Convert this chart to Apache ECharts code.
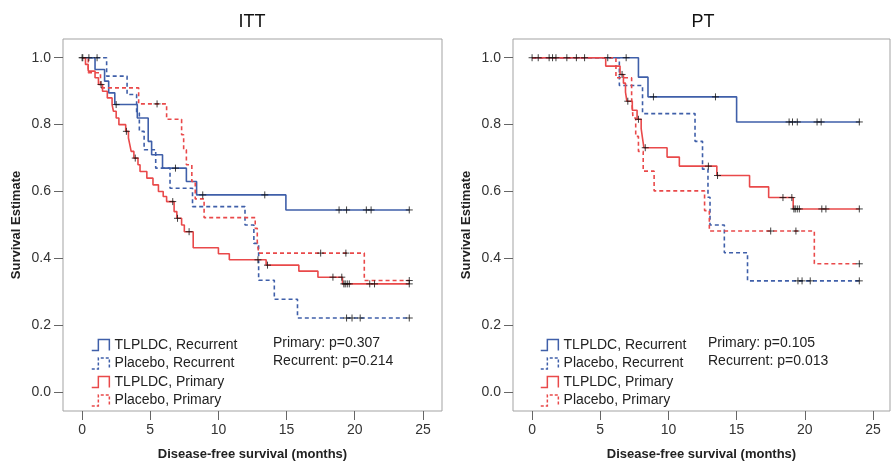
<!DOCTYPE html>
<html>
<head>
<meta charset="utf-8">
<script src="https://cdn.jsdelivr.net/npm/echarts@6/dist/echarts.min.js"></script>
<style>
  html, body { margin: 0; padding: 0; background: #fff; }
  #chart { width: 893px; height: 466px; }
</style>
</head>
<body>
<div id="chart"></div>
<script>
// step times / survival after each step / censor times
// ITT panel
const ittTlpRecTime = [0.95, 1.65, 1.95, 2.4, 4.05, 4.85, 5.1, 5.9, 7.65, 8.4, 14.95];
const ittTlpRecSurv = [0.965, 0.93, 0.895, 0.86, 0.82, 0.75, 0.71, 0.67, 0.63, 0.59, 0.545];
const ittTlpRecCens = [0.05, 0.5, 2.5, 6.85, 8.85, 13.4, 18.85, 19.4, 20.85, 21.2, 24];

const ittPlaRecTime = [1.8, 3.3, 4.0, 4.2, 4.55, 5.4, 6.45, 8.1, 11.95, 12.6, 12.95, 14.1, 15.8];
const ittPlaRecSurv = [0.945, 0.89, 0.835, 0.78, 0.725, 0.67, 0.61, 0.555, 0.5, 0.445, 0.335, 0.278, 0.222];
const ittPlaRecCens = [1.1, 19.4, 19.8, 20.4, 24];

const ittTlpPriTime = [0.25, 0.45, 0.95, 1.2, 1.5, 1.85, 2.2, 2.3, 2.5, 2.7, 3.2, 3.4, 3.5, 3.6, 3.8, 4.1, 4.25, 4.75, 5.2, 5.6, 5.95, 6.2, 6.75, 6.95, 7.3, 7.5, 8.15, 10.0, 10.8, 13.5, 15.9, 17.3, 19.1];
const ittTlpPriSurv = [0.98, 0.96, 0.94, 0.92, 0.90, 0.88, 0.86, 0.84, 0.82, 0.80, 0.78, 0.76, 0.74, 0.72, 0.70, 0.68, 0.66, 0.64, 0.62, 0.60, 0.585, 0.57, 0.54, 0.52, 0.50, 0.48, 0.432, 0.414, 0.396, 0.38, 0.362, 0.344, 0.324];
const ittTlpPriCens = [0, 1.39, 3.25, 3.9, 6.65, 7.0, 7.85, 12.9, 13.6, 18.4, 19.05, 19.2, 19.3, 19.45, 19.6, 21.1, 21.45, 24];

const ittPlaPriTime = [0.45, 1.35, 4.15, 6.2, 7.3, 7.45, 7.65, 8.05, 8.3, 8.95, 12.7, 12.85, 12.95, 20.7];
const ittPlaPriSurv = [0.955, 0.91, 0.862, 0.816, 0.77, 0.725, 0.68, 0.63, 0.578, 0.522, 0.49, 0.45, 0.416, 0.334];
const ittPlaPriCens = [5.5, 17.5, 19.35, 24];

// PT panel
const ptTlpRecTime = [7.8, 8.5, 15.0];
const ptTlpRecSurv = [0.942, 0.883, 0.808];
const ptTlpRecCens = [0, 0.45, 1.25, 1.5, 1.75, 2.55, 3.25, 3.85, 5.55, 6.9, 8.9, 13.45, 18.85, 19.1, 19.45, 20.9, 21.2, 24];

const ptPlaRecTime = [6.4, 8.1, 11.95, 12.5, 12.9, 13.05, 14.1, 15.8];
const ptPlaRecSurv = [0.917, 0.833, 0.75, 0.667, 0.583, 0.5, 0.417, 0.333];
const ptPlaRecCens = [19.5, 19.8, 20.4, 24];

const ptTlpPriTime = [5.4, 6.45, 6.7, 6.85, 6.95, 7.35, 7.7, 8.0, 8.1, 8.2, 9.9, 10.8, 13.55, 15.95, 17.35, 19.15];
const ptTlpPriSurv = [0.975, 0.95, 0.924, 0.897, 0.87, 0.843, 0.816, 0.788, 0.759, 0.731, 0.703, 0.676, 0.648, 0.614, 0.582, 0.548];
const ptTlpPriCens = [6.6, 7.02, 7.8, 8.3, 12.93, 13.6, 18.4, 19.05, 19.2, 19.3, 19.45, 19.6, 21.25, 21.55, 24];

const ptPlaPriTime = [6.15, 7.3, 7.4, 7.6, 7.8, 8.15, 8.95, 12.65, 13.0, 20.7];
const ptPlaPriSurv = [0.94, 0.88, 0.82, 0.765, 0.72, 0.661, 0.602, 0.543, 0.482, 0.384];
const ptPlaPriCens = [17.5, 19.35, 24];

const seriesNames = ['TLPLDC, Recurrent', 'Placebo, Recurrent', 'TLPLDC, Primary', 'Placebo, Primary'];
const xTicks = [0, 5, 10, 15, 20, 25];
const yTicks = [0, 0.2, 0.4, 0.6, 0.8, 1.0];
const pTextItt = ['Primary: p=0.307', 'Recurrent: p=0.214'];
const pTextPt = ['Primary: p=0.105', 'Recurrent: p=0.013'];

const BLUE = '#3f5fa9';
const RED = '#e9494a';
const FONT = 'Liberation Sans, Arial, sans-serif';

function stepData(times, surv, end) {
    const d = [[0, 1]];
    times.forEach((t, i) => d.push([t, surv[i]]));
    d.push([end, surv[surv.length - 1]]);
    return d;
}

function survAt(times, surv, t) {
    let s = 1;
    for (let i = 0; i < times.length; i++) {
        if (times[i] <= t) s = surv[i];
    }
    return s;
}

function censorPoints(times, surv, cens) {
    return cens.map(t => [t, survAt(times, surv, t)]);
}

const curves = [
    [[ittTlpRecTime, ittTlpRecSurv, ittTlpRecCens], [ittPlaRecTime, ittPlaRecSurv, ittPlaRecCens],
     [ittTlpPriTime, ittTlpPriSurv, ittTlpPriCens], [ittPlaPriTime, ittPlaPriSurv, ittPlaPriCens]],
    [[ptTlpRecTime, ptTlpRecSurv, ptTlpRecCens], [ptPlaRecTime, ptPlaRecSurv, ptPlaRecCens],
     [ptTlpPriTime, ptTlpPriSurv, ptTlpPriCens], [ptPlaPriTime, ptPlaPriSurv, ptPlaPriCens]]
];
const colors = [BLUE, BLUE, RED, RED];
const dashed = [false, true, false, true];

const series = [];
curves.forEach((panel, p) => {
    let cens = [];
    panel.forEach((c, i) => {
        const last = c[2][c[2].length - 1];
        series.push({
            name: seriesNames[i],
            type: 'line',
            step: 'end',
            xAxisIndex: p,
            yAxisIndex: p,
            showSymbol: false,
            silent: true,
            color: colors[i],
            lineStyle: { color: colors[i], width: 1.6, type: dashed[i] ? [4, 3] : 'solid' },
            data: stepData(c[0], c[1], last)
        });
        cens = cens.concat(censorPoints(c[0], c[1], c[2]));
    });
    series.push({
        type: 'scatter',
        xAxisIndex: p,
        yAxisIndex: p,
        symbol: 'path://M0,4 L8,4 M4,0 L4,8',
        symbolSize: 7,
        silent: true,
        z: 5,
        itemStyle: { color: 'transparent', borderColor: '#111', borderWidth: 1 },
        data: cens
    });
});

const legendIcon = 'path://M0,10 L6,10 L6,0 L16,0 L16,10';
function legendData() {
    return seriesNames.map((n, i) => ({
        name: n,
        icon: legendIcon,
        itemStyle: {
            color: 'transparent',
            borderColor: colors[i],
            borderWidth: 1.5,
            borderType: dashed[i] ? [3, 2] : 'solid'
        }
    }));
}

const grids = [
    { left: 63, top: 39, width: 379, height: 378 },
    { left: 513, top: 39, width: 377, height: 378 }
];

function xAxis(i) {
    return {
        type: 'value',
        gridIndex: i,
        min: -1.4,
        max: i === 0 ? 26.4 : 26.25,
        name: 'Disease-free survival (months)',
        nameLocation: 'middle',
        nameGap: 37,
        nameTextStyle: { fontFamily: FONT, fontSize: 13, fontWeight: 'bold', color: '#222' },
        axisLine: { show: false, onZero: false },
        axisTick: { show: true, length: 9, customValues: xTicks, lineStyle: { color: '#666' } },
        axisLabel: { customValues: xTicks, fontFamily: FONT, fontSize: 14, color: '#333', margin: 12 },
        splitLine: { show: false }
    };
}

function yAxis(i) {
    return {
        type: 'value',
        gridIndex: i,
        min: -0.056,
        max: 1.056,
        name: 'Survival Estimate',
        nameLocation: 'middle',
        nameRotate: 90,
        nameGap: 40,
        nameTextStyle: { fontFamily: FONT, fontSize: 13, fontWeight: 'bold', color: '#222' },
        axisLine: { show: false, onZero: false },
        axisTick: { show: true, length: 9, customValues: yTicks, lineStyle: { color: '#666' } },
        axisLabel: {
            customValues: yTicks,
            fontFamily: FONT, fontSize: 14, color: '#333', margin: 12,
            formatter: v => v.toFixed(1)
        },
        splitLine: { show: false }
    };
}

function pText(x, lines) {
    return lines.map((t, k) => ({
        type: 'text',
        x: x,
        y: 343 + k * 18.5,
        style: { text: t, font: '14px ' + FONT, fill: '#222', textVerticalAlign: 'middle' }
    }));
}

const chart = echarts.init(document.getElementById('chart'), null, { renderer: 'canvas' });
chart.setOption({
    animation: false,
    backgroundColor: '#fff',
    title: [
        { text: 'ITT', left: 247, top: 8, textAlign: 'center',
          textStyle: { fontFamily: FONT, fontSize: 18, fontWeight: 'normal', color: '#111' } },
        { text: 'PT', left: 698, top: 8, textAlign: 'center',
          textStyle: { fontFamily: FONT, fontSize: 18, fontWeight: 'normal', color: '#111' } }
    ],
    grid: grids.map(g => Object.assign({ show: true, borderColor: '#a3a3a3', borderWidth: 1, backgroundColor: '#fff' }, g)),
    xAxis: [xAxis(0), xAxis(1)],
    yAxis: [yAxis(0), yAxis(1)],
    legend: [
        { orient: 'vertical', left: 86, top: 333, itemWidth: 18, itemHeight: 11, itemGap: 4.5,
          selectedMode: false, data: legendData(),
          textStyle: { fontFamily: FONT, fontSize: 14, color: '#222' } },
        { orient: 'vertical', left: 535, top: 333, itemWidth: 18, itemHeight: 11, itemGap: 4.5,
          selectedMode: false, data: legendData(),
          textStyle: { fontFamily: FONT, fontSize: 14, color: '#222' } }
    ],
    graphic: pText(273, pTextItt).concat(pText(708, pTextPt)),
    series: series
});
</script>
</body>
</html>
